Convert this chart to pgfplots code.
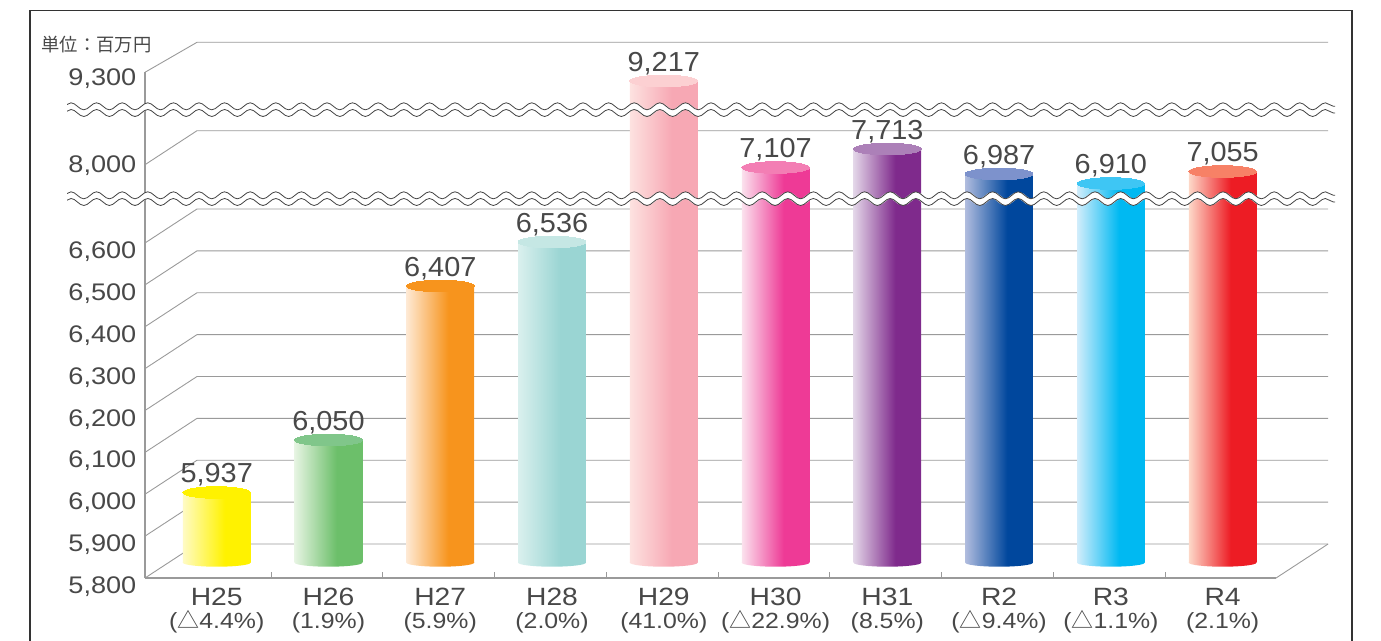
\documentclass[border=0pt]{standalone}
\usepackage{fontspec}
\usepackage{pgfplots}
\pgfplotsset{compat=1.18}
\usetikzlibrary{decorations.pathmorphing}
\setmainfont{Liberation Sans}[FakeStretch=1.13]
\newfontfamily\lab{Liberation Sans}[FakeStretch=1.05]
\newfontfamily\cjk{Noto Sans CJK JP}

\definecolor{txt}{HTML}{484848}
\definecolor{gridc}{HTML}{9A9A9A}
\definecolor{wavec}{HTML}{444444}

% bar shadings: light on the left, solid from about 60% of the width
\newcommand{\barshade}[4]{%
  \definecolor{#1a}{HTML}{#2}\definecolor{#1b}{HTML}{#3}\definecolor{#1t}{HTML}{#4}%
  \pgfdeclarehorizontalshading{#1}{100bp}{color(0bp)=(#1a); color(25bp)=(#1a); color(56bp)=(#1b); color(100bp)=(#1b)}}
\barshade{sA}{FFFBC4}{FFF200}{FFF200}
\barshade{sB}{E6F4E2}{6CBF6A}{80C68A}
\barshade{sC}{FEE9D4}{F7941D}{F7941D}
\barshade{sD}{DAF0EE}{9AD5D3}{C5E7E4}
\barshade{sE}{FDE2E0}{F7A8B4}{FCD0D2}
\barshade{sF}{FBE2EE}{EE3A96}{F37EB4}
\barshade{sG}{E3D6E8}{7F2A8C}{AC80B8}
\barshade{sH}{B0BCDE}{00479D}{7D92CC}
\barshade{sI}{D2EDFB}{00B9F2}{3EC6F4}
\barshade{sJ}{FDD8C8}{ED1C24}{F78166}

% one cylinder: index, value, shading
\newcommand{\cyl}[3]{%
  \addplot[ybar, bar width=67.6pt, bar shift=0pt, draw=none, shade, shading=#3] coordinates {(#1,#2)};
  \path[shade, shading=#3] (axis cs:#1,5800) ++(-33.8pt,0.6pt) -- ++(0pt,-0.6pt)
    arc[start angle=180, end angle=360, x radius=33.8pt, y radius=4pt] -- ++(0pt,0.6pt) -- cycle;
  \addplot[only marks, mark=*, mark size=33.8pt,
    mark options={yscale=0.172, fill=#3t, draw=#3t, line width=0pt},
    nodes near coords, point meta=rawy,
    every node near coord/.style={anchor=base, yshift=9.7pt, inner sep=0pt, text=txt,
      font=\lab\fontsize{27.5}{28}\selectfont,
      /pgf/number format/.cd, 1000 sep={,}, assume math mode=true}
    ] coordinates {(#1,#2)};
}

% piecewise segment for the bar axis
\newcommand{\kn}[5]{(#1<=#3 ? #4+(#1-#2)*((#5-#4)/(#3-#2)) : }

\newcommand{\pct}{\fontsize{22}{23.3}\selectfont}
\newcommand{\xl}[2]{#1\\\pct #2}
\newcommand{\tri}{{\cjk △}}

\begin{document}
\begin{tikzpicture}[x=1pt,y=1pt]
\useasboundingbox (-145,-62) rectangle (1236,578);

% axis with the walls, ticks and labels (front plane)
\begin{axis}[
  scale only axis, width=1131pt, height=505.7pt, clip=false,
  xmin=-0.6415, xmax=9.478, ymin=5800, ymax=9300,
  y coord trafo/.code={\pgfmathparse{#1<=6600 ? (#1-5800)*0.41875 : (#1<=8000 ? 335+(#1-6600)*0.05593 : 413.3+(#1-8000)*0.07108)}},
  axis x line=bottom, axis y line=left,
  axis line style={-, gridc, line width=1.4pt},
  ytick={5800,5900,6000,6100,6200,6300,6400,6500,6600,8000,9300},
  yticklabels={{5,800},{5,900},{6,000},{6,100},{6,200},{6,300},{6,400},{6,500},{6,600},{\raisebox{8pt}{8,000}},{\raisebox{2pt}{9,300}}},
  xtick={0,...,9},
  xticklabels={
    {\xl{H25}{(\tri 4.4\%)}},{\xl{H26}{(1.9\%)}},{\xl{H27}{(5.9\%)}},{\xl{H28}{(2.0\%)}},{\xl{H29}{(41.0\%)}},
    {\xl{H30}{(\tri 22.9\%)}},{\xl{H31}{(8.5\%)}},{\xl{R2}{(\tri 9.4\%)}},{\xl{R3}{(\tri 1.1\%)}},{\xl{R4}{(2.1\%)}}},
  minor xtick={0.486,1.486,2.486,3.486,4.486,5.486,6.486,7.486,8.486},
  major tick length=0pt, minor tick length=6pt,
  minor tick style={gridc, line width=1pt},
  tick align=inside,
  yticklabel style={anchor=base east, inner sep=0pt, xshift=-8.5pt, yshift=-15.5pt, text=txt,
    font=\fontsize{24}{24}\selectfont},
  xticklabel style={anchor=north, align=center, inner sep=0pt, yshift=-10pt, text=txt,
    font=\fontsize{25}{23.3}\selectfont},
]
\pgfplotsinvokeforeach{5800,5900,6000,6100,6200,6300,6400,6500,6600,8000}{
  \draw[gridc, line width=0.9pt] (axis cs:-0.6415,#1) -- ++(52pt,34pt) -- ++(1131pt,0pt);
}
\draw[gridc, line width=0.9pt] (axis cs:-0.6415,9300) -- ++(52pt,30pt) -- ++(1131pt,0pt);
\draw[gridc, line width=0.9pt] (axis cs:9.478,5800) -- ++(52pt,34pt);
\end{axis}

% cylinders; y scale is fitted to where each top sits in the drawing
\begin{axis}[
  at={(0pt,15.3pt)}, anchor=south west,
  scale only axis, width=1131pt, height=490pt, clip=false, hide axis,
  xmin=-0.6415, xmax=9.478, ymin=5800, ymax=9300,
  y coord trafo/.code={\pgfmathparse{
    \kn{#1}{5800}{5937}{0}{70.2} \kn{#1}{5937}{6050}{70.2}{122.7}
    \kn{#1}{6050}{6407}{122.7}{276.7} \kn{#1}{6407}{6536}{276.7}{320.7}
    \kn{#1}{6536}{6910}{320.7}{379.2} \kn{#1}{6910}{6987}{379.2}{388.7}
    \kn{#1}{6987}{7055}{388.7}{391.2} \kn{#1}{7055}{7107}{391.2}{395.2}
    \kn{#1}{7107}{7713}{395.2}{413.7} \kn{#1}{7713}{9217}{413.7}{481.7}
    481.7+(#1-9217)*0.0999))))))))))}},
]
\cyl{0}{5937}{sA}
\cyl{1}{6050}{sB}
\cyl{2}{6407}{sC}
\cyl{3}{6536}{sD}
\cyl{4}{9217}{sE}
\cyl{5}{7107}{sF}
\cyl{6}{7713}{sG}
\cyl{7}{6987}{sH}
\cyl{8}{6910}{sI}
\cyl{9}{7055}{sJ}
\end{axis}

% axis break bands
\tikzset{wv/.style={decorate, decoration={snake, segment length=25.6pt, amplitude=3.5pt}}}
\draw[wv, white, line width=6.4pt] (-82,468.3) -- (1190,468.3);
\draw[wv, wavec, line width=0.8pt] (-82,471.7) -- (1190,471.7);
\draw[wv, wavec, line width=0.8pt] (-82,465) -- (1190,465);
\draw[wv, white, line width=6.4pt] (-82,379.3) -- (1190,379.3);
\draw[wv, wavec, line width=0.8pt] (-82,382.7) -- (1190,382.7);
\draw[wv, wavec, line width=0.8pt] (-82,376) -- (1190,376);
% the bands start at x=67 in the drawing
\fill[white] (-85,360) rectangle (-78,480);

\node[anchor=west, inner sep=0pt, text=txt, font=\cjk\fontsize{18.3}{18}\selectfont] at (-103.5,533.5) {単位：百万円};

% outer frame, open at the bottom
\draw[color=black!80, line width=1.6pt] (-115,-63) -- (-115,567.3) -- (1206.7,567.3) -- (1206.7,-63);
\end{tikzpicture}
\end{document}
